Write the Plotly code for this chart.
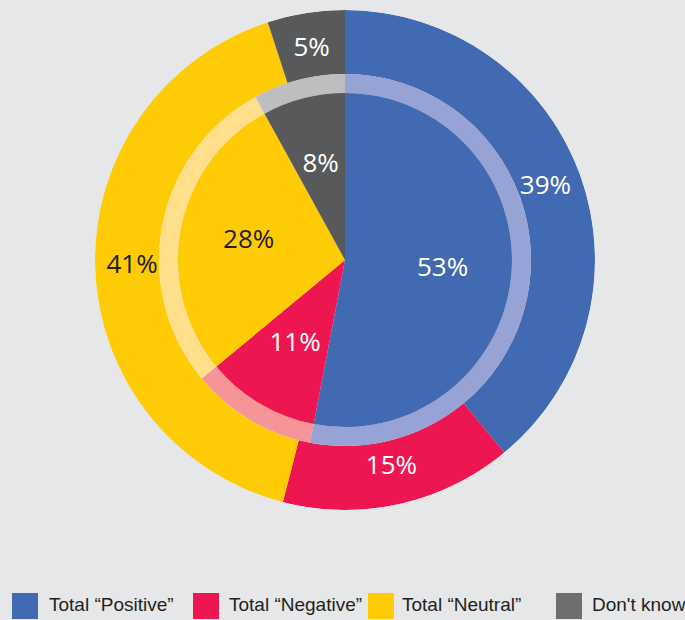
import plotly.graph_objects as go

categories = ["Total “Positive”", "Total “Negative”", "Total “Neutral”", "Don't know"]
outer_values = [39, 15, 41, 5]
inner_values = [53, 11, 28, 8]

colors = ["#416ab2", "#ee1651", "#ffcb05", "#58595b"]
band_colors = ["#96a3d4", "#f59597", "#ffdf8c", "#bcbec0"]
legend_colors = ["#416ab2", "#ee1651", "#ffcb05", "#6d6e70"]
text_colors = ["white", "white", "#231f20", "white"]

W, H = 685, 620
cx, cy = 345, 260
R_out, R_band, R_in = 250, 186, 167
R_lab_out, R_lab_in = 213, 98


def angles(values):
    total = sum(values)
    mids, widths, acc = [], [], 0
    for v in values:
        widths.append(v / total * 360)
        mids.append((acc + v / 2) / total * 360)
        acc += v
    return mids, widths


o_mid, o_w = angles(outer_values)
i_mid, i_w = angles(inner_values)

label_font = "Open Sans, sans-serif"

fig = go.Figure()
fig.add_trace(go.Barpolar(r=[R_out - R_band] * 4, base=R_band, theta=o_mid, width=o_w,
                          marker=dict(color=colors, line=dict(width=0)), hoverinfo="skip"))
fig.add_trace(go.Barpolar(r=[R_band - R_in] * 4, base=R_in, theta=i_mid, width=i_w,
                          marker=dict(color=band_colors, line=dict(width=0)), hoverinfo="skip"))
fig.add_trace(go.Barpolar(r=[R_in] * 4, base=0, theta=i_mid, width=i_w,
                          marker=dict(color=colors, line=dict(width=0)), hoverinfo="skip"))
fig.add_trace(go.Scatterpolar(r=[R_lab_out] * 4, theta=o_mid, mode="text",
                              text=[f"{v}%" for v in outer_values],
                              textfont=dict(family=label_font, size=26, color=text_colors),
                              hoverinfo="skip"))
fig.add_trace(go.Scatterpolar(r=[R_lab_in] * 4, theta=i_mid, mode="text",
                              text=[f"{v}%" for v in inner_values],
                              textfont=dict(family=label_font, size=26, color=text_colors),
                              hoverinfo="skip"))

# manual legend
sq_x = [12, 193, 368, 556]
tx_x = [47, 227, 400, 590]
shapes = []
annotations = []
for i, name in enumerate(categories):
    shapes.append(dict(type="rect", xref="paper", yref="paper",
                       x0=sq_x[i] / W, x1=(sq_x[i] + 26) / W, y0=1 - 619 / H, y1=1 - 593 / H,
                       fillcolor=legend_colors[i], line=dict(width=0)))
    annotations.append(dict(text=name, xref="paper", yref="paper", x=tx_x[i] / W, y=1 - 604 / H,
                            xanchor="left", yanchor="middle", showarrow=False,
                            font=dict(family="Liberation Sans, Arial, sans-serif", size=19,
                                      color="#231f20")))

fig.update_layout(
    width=W, height=H, margin=dict(l=0, r=0, t=0, b=0),
    paper_bgcolor="#e6e7e8", plot_bgcolor="#e6e7e8",
    shapes=shapes, annotations=annotations, showlegend=False,
    polar=dict(
        domain=dict(x=[(cx - R_out) / W, (cx + R_out) / W],
                    y=[1 - (cy + R_out) / H, 1 - (cy - R_out) / H]),
        bgcolor="rgba(0,0,0,0)", hole=0,
        radialaxis=dict(range=[0, R_out], visible=False),
        angularaxis=dict(direction="clockwise", rotation=90, visible=False),
    ),
)
fig.write_html("out.html", config={"displayModeBar": False},
               post_script="document.body.style.margin='0';")
